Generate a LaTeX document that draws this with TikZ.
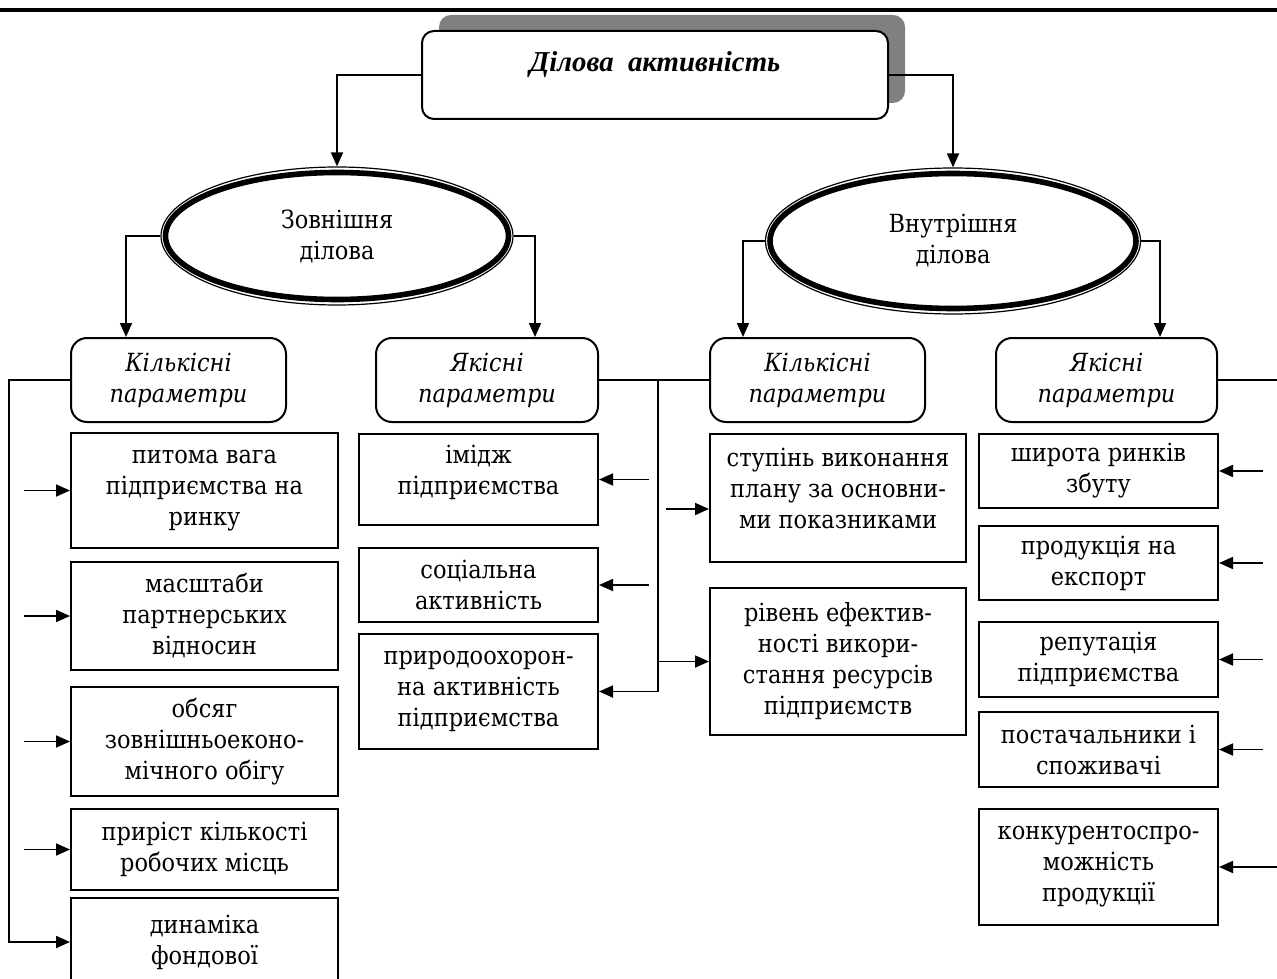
\documentclass[tikz,border=0pt]{standalone}
\usepackage{fontspec}
\setmainfont{DejaVu Serif Condensed}
\newfontfamily\titlefont{Liberation Serif}
\usepackage{tikz}
\usetikzlibrary{shapes.geometric,arrows.meta,shadows}

\tikzset{
  every node/.style={font=\fontsize{12.5}{15.5}\selectfont},
  box/.style={draw, line width=1pt, align=center, inner sep=1pt},
  param/.style={draw, line width=1pt, rounded corners=8pt, align=center,
    minimum height=42pt, font=\fontsize{12.5}{15.5}\selectfont\itshape},
  oval/.style={ellipse, draw, line width=0.6pt, align=center, inner sep=0pt},
  arr/.style={line width=0.9pt, -{Triangle[length=7pt,width=6pt]}},
  bus/.style={line width=0.9pt}
}
\newcommand{\lift}{\\[-6pt]\mbox{}}

\begin{document}
\begin{tikzpicture}[x=0.5pt, y=-0.5pt]

        \useasboundingbox (0,0) rectangle (1277,978);

        %Top rule
        \draw [line width=1.8pt] (0,10) -- (1277,10);

        %Title
        \node [draw, line width=1pt, rounded corners=6pt, fill=white,
          general shadow={fill=black!50, shadow xshift=8.5pt, shadow yshift=8pt},
          minimum width=233pt, minimum height=44pt, text depth=13pt,
          font=\titlefont\fontsize{14.4}{16}\selectfont\bfseries\itshape]
          (title) at (655,75) {Ділова\ \ активність};

        %Two kinds of activity
        \node [oval, minimum width=176pt, minimum height=69pt] (ext) at (337,236) {Зовнішня\\ділова};
        \node [oval, minimum width=187.5pt, minimum height=73pt] (int) at (953,241) {Внутрішня\\ділова};
        \draw [line width=2.8pt] (ext.center) ellipse [x radius=171.5, y radius=63.5];
        \draw [line width=2.8pt] (int.center) ellipse [x radius=183, y radius=67.5];

        %Parameters
        \node [param, minimum width=107.5pt] (kext) at (178.5,380) {Кількісні\\параметри};
        \node [param, minimum width=111pt] (yext) at (487,380) {Якісні\\параметри};
        \node [param, minimum width=107.5pt] (kint) at (817.5,380) {Кількісні\\параметри};
        \node [param, minimum width=110.5pt] (yint) at (1106.5,380) {Якісні\\параметри};

        %External, quantitative
        \node [box, minimum width=133.5pt, minimum height=57.5pt] (e1) at (204.5,490.5) {питома вага\\підприємства на\\ринку};
        \node [box, minimum width=133.5pt, minimum height=54pt] (e2) at (204.5,616) {масштаби\\партнерських\\відносин};
        \node [box, minimum width=133.5pt, minimum height=54.5pt] (e3) at (204.5,741.5) {обсяг\\зовнішньоеконо-\\мічного обігу};
        \node [box, minimum width=133.5pt, minimum height=40.5pt] (e4) at (204.5,849.5) {приріст кількості\\робочих місць};
        \node [box, minimum width=133.5pt, minimum height=44pt] (e5) at (204.5,942) {динаміка\\фондової};

        %External, qualitative
        \node [box, minimum width=119.5pt, minimum height=45.5pt] (s1) at (478.5,479.5) {імідж\\підприємства\lift};
        \node [box, minimum width=119.5pt, minimum height=37pt] (s2) at (478.5,585) {соціальна\\активність};
        \node [box, minimum width=119.5pt, minimum height=57.5pt] (s3) at (478.5,691.5) {природоохорон-\\на активність\\підприємства};

        %Internal, quantitative
        \node [box, minimum width=128pt, minimum height=64pt] (k1) at (838,498) {ступінь виконання\\плану за основни-\\ми показниками\lift};
        \node [box, minimum width=128pt, minimum height=73.5pt] (k2) at (838,661.5) {рівень ефектив-\\ності викори-\\стання ресурсів\\підприємств};

        %Internal, qualitative
        \node [box, minimum width=119.5pt, minimum height=37pt] (r1) at (1098.5,471) {широта ринків\\збуту};
        \node [box, minimum width=119.5pt, minimum height=37pt] (r2) at (1098.5,563) {продукція на\\експорт};
        \node [box, minimum width=119.5pt, minimum height=37.5pt] (r3) at (1098.5,659.5) {репутація\\підприємства};
        \node [box, minimum width=119.5pt, minimum height=37.5pt] (r4) at (1098.5,749.5) {постачальники і\\споживачі};
        \node [box, minimum width=119.5pt, minimum height=58pt] (r5) at (1098.5,867) {конкурентоспро-\\можність\\продукції};

        %Arrows from the top
        \draw [arr] (title.west) -| (ext.north);
        \draw [arr] (title.east) -| (int.north);
        \draw [arr] (ext.west) -| ([xshift=-26.25pt]kext.north);
        \draw [arr] (ext.east) -| ([xshift=24pt]yext.north);
        \draw [arr] (int.west) -| ([xshift=-37.25pt]kint.north);
        \draw [arr] (int.east) -| ([xshift=26.75pt]yint.north);

        %Left bus
        \draw [arr] (kext.west) -- ++(-61,0) |- (e5.west);
        \foreach \n in {e1,e2,e3,e4}
          \draw [arr] ([xshift=-23pt]\n.west) -- (\n.west);

        %Middle bus
        \coordinate (mid) at (658,380);
        \draw [bus] (yext.east) -- (kint.west);
        \draw [arr] (mid) |- (s3.east);
        \draw [arr] (mid |- k2.west) -- (k2.west);
        \foreach \n in {s1,s2}
          \draw [arr] ([xshift=25pt]\n.east) -- (\n.east);
        \draw [arr] ([xshift=-21.5pt,yshift=-5.5pt]k1.west) -- ([yshift=-5.5pt]k1.west);

        %Right bus
        \draw [bus] (yint.east) -- ++(60,0);
        \foreach \n in {r1,r2,r3,r4}
          \draw [arr] ([xshift=22pt]\n.east) -- (\n.east);
        \draw [arr] ([xshift=29.5pt]r5.east) -- (r5.east);

\end{tikzpicture}
\end{document}
